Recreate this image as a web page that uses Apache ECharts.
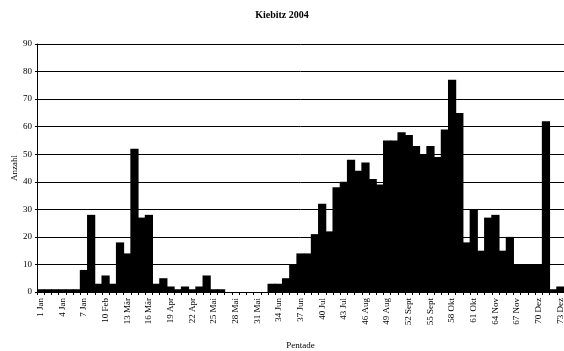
<!DOCTYPE html>
<html>
<head>
<meta charset="utf-8">
<script src="https://cdn.jsdelivr.net/npm/echarts@6/dist/echarts.min.js"></script>
<style>
    html, body { margin: 0; padding: 0; background: #fff; }
    #main { width: 564px; height: 351px; }
</style>
</head>
<body>
<div id="main"></div>
<script>
// Pentaden 1..73
var pentades = [];
for (var p = 1; p <= 73; p++) {
    pentades.push(String(p));
}

// Beschriftung jeder dritten Pentade
var tickLabels = ['1 Jan', '4 Jan', '7 Jan', '10 Feb', '13 Mär', '16 Mär', '19 Apr', '22 Apr',
    '25 Mai', '28 Mai', '31 Mai', '34 Jun', '37 Jun', '40 Jul', '43 Jul', '46 Aug', '49 Aug',
    '52 Sept', '55 Sept', '58 Okt', '61 Okt', '64 Nov', '67 Nov', '70 Dez', '73 Dez'];

// Anzahl je Pentade
var counts = [
    1, 1, 1, 1, 1, 1, 8, 28, 3, 6,
    3, 18, 14, 52, 27, 28, 3, 5, 2, 1,
    2, 1, 2, 6, 1, 1, 0, 0, 0, 0,
    0, 0, 3, 3, 5, 10, 14, 14, 21, 32,
    22, 38, 40, 48, 44, 47, 41, 39, 55, 55,
    58, 57, 53, 50, 53, 49, 59, 77, 65, 18,
    30, 15, 27, 28, 15, 20, 10, 10, 10, 10,
    62, 1, 2
];

var yTicks = [0, 90, 10]; // min, max, interval

var myChart = echarts.init(document.getElementById('main'));

var option = {
    animation: false,
    textStyle: {fontFamily: 'Liberation Serif'},
    title: {
        text: 'Kiebitz 2004',
        left: 'center',
        top: 5,
        textStyle: {fontFamily: 'Liberation Serif', fontSize: 10, fontWeight: 'bold', color: '#000'}
    },
    grid: {
        left: 37,
        right: 0,
        top: 44,
        bottom: 59,
        outerBoundsMode: 'none'
    },
    xAxis: {
        type: 'category',
        data: pentades,
        name: 'Pentade',
        nameLocation: 'middle',
        nameGap: 49,
        nameMoveOverlap: false,
        nameTextStyle: {fontFamily: 'Liberation Serif', fontSize: 9, color: '#000'},
        axisLine: {lineStyle: {color: '#000', width: 1}},
        axisTick: {show: true, interval: 0, length: 3, lineStyle: {color: '#000'}},
        splitLine: {show: false},
        axisLabel: {
            interval: 0,
            rotate: 90,
            margin: 6,
            fontFamily: 'Liberation Serif',
            fontSize: 9,
            color: '#000',
            formatter: function (value, index) {
                return index % 3 === 0 ? tickLabels[index / 3] : '';
            }
        }
    },
    yAxis: {
        type: 'value',
        min: yTicks[0],
        max: yTicks[1],
        interval: yTicks[2],
        name: 'Anzahl',
        nameLocation: 'middle',
        nameGap: 18,
        nameMoveOverlap: false,
        nameTextStyle: {fontFamily: 'Liberation Serif', fontSize: 9, color: '#000'},
        axisLine: {show: true, lineStyle: {color: '#000', width: 1}},
        axisTick: {show: true, length: 2, lineStyle: {color: '#000'}},
        axisLabel: {fontFamily: 'Liberation Serif', fontSize: 9, color: '#000', margin: 5},
        splitLine: {show: true, lineStyle: {color: '#000', width: 1}}
    },
    series: [
        {
            name: 'Anzahl',
            type: 'bar',
            data: counts,
            barWidth: '114%',
            itemStyle: {color: '#000'}
        }
    ]
};

myChart.setOption(option);
</script>
</body>
</html>
